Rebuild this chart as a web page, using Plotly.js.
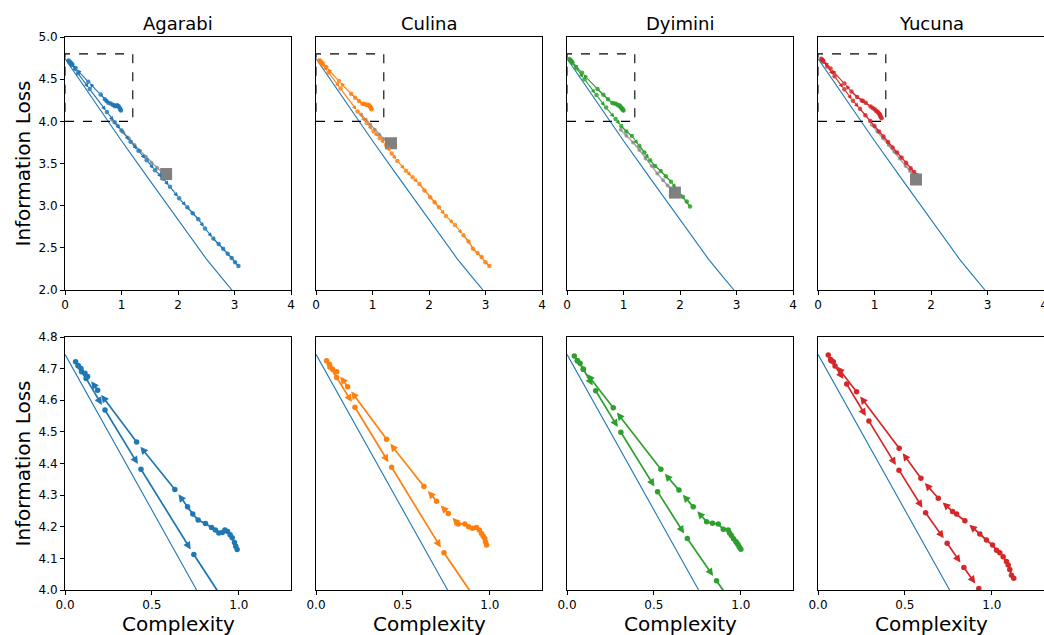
<!DOCTYPE html>
<html><head><meta charset="utf-8">
<script src="https://cdn.plot.ly/plotly-3.0.1.min.js"></script>
<style>html,body{margin:0;padding:0;background:#fff;overflow:hidden}</style>
</head><body><div id="chart" style="width:1044px;height:635px"></div>
<script>
const languages = ["Agarabi", "Culina", "Dyimini", "Yucuna"];
const colors = ["#1f77b4", "#ff7f0e", "#2ca02c", "#d62728"];

// theoretical bound curve (same in every panel)
const boundX = [0, 0.25, 0.5, 0.757, 1.0, 1.5, 2.0, 2.5, 2.75, 2.955];
const boundY = [4.745, 4.50, 4.255, 4.0, 3.77, 3.30, 2.835, 2.37, 2.165, 2.0];

// trajectories (upper branch from its end back to the start, then the lower branch)
const agarabiX = [0.99,0.982,0.975,0.962,0.95,0.935,0.92,0.905,0.885,0.865,0.843,0.808,0.766,0.735,0.705,0.632,0.412,0.188,0.13,0.115,0.092,0.077,0.061,
  0.075,0.095,0.121,0.23,0.437,0.741,0.88,1.0,1.16,1.30,1.446,1.593,1.74,1.858,2.02,2.165,2.26,2.36,2.478,2.625,2.72,2.80,2.88,2.95,3.01,3.07];
const agarabiY = [4.128,4.138,4.15,4.165,4.175,4.185,4.19,4.182,4.18,4.19,4.198,4.21,4.221,4.24,4.263,4.318,4.468,4.632,4.675,4.685,4.70,4.708,4.722,
  4.71,4.69,4.669,4.569,4.382,4.112,3.99,3.89,3.759,3.65,3.54,3.42,3.32,3.225,3.087,2.98,2.91,2.84,2.73,2.61,2.545,2.49,2.43,2.38,2.33,2.285];

const culinaX = [0.981,0.975,0.971,0.962,0.952,0.94,0.923,0.90,0.878,0.856,0.818,0.761,0.694,0.621,0.406,0.182,0.119,0.096,0.077,0.061,
  0.08,0.119,0.224,0.435,0.736,0.90,1.02,1.13,1.24,1.34,1.44,1.593,1.71,1.83,1.92,2.02,2.10,2.177,2.30,2.46,2.61,2.70,2.78,2.86,2.93,3.00,3.07];
const culinaY = [4.142,4.152,4.163,4.17,4.179,4.19,4.198,4.195,4.20,4.209,4.209,4.242,4.281,4.327,4.477,4.643,4.69,4.698,4.714,4.725,
  4.705,4.672,4.578,4.388,4.118,3.98,3.88,3.80,3.72,3.62,3.53,3.415,3.336,3.257,3.18,3.10,3.04,2.98,2.877,2.77,2.65,2.575,2.49,2.44,2.39,2.33,2.285];

const dyiminiX = [1.0,0.992,0.985,0.978,0.971,0.958,0.946,0.935,0.927,0.899,0.87,0.837,0.803,0.726,0.644,0.54,0.266,0.094,0.075,0.059,0.042,
  0.06,0.094,0.165,0.31,0.521,0.692,0.86,0.96,1.05,1.15,1.28,1.37,1.47,1.56,1.66,1.75,1.84,1.95,2.05,2.12,2.177];
const dyiminiY = [4.129,4.135,4.142,4.148,4.153,4.162,4.172,4.18,4.19,4.192,4.209,4.211,4.216,4.263,4.316,4.382,4.576,4.698,4.717,4.725,4.74,
  4.725,4.698,4.63,4.499,4.311,4.163,4.029,3.945,3.88,3.826,3.71,3.63,3.54,3.47,3.41,3.35,3.284,3.19,3.107,3.05,2.99];

const yucunaX = [1.126,1.113,1.103,1.094,1.084,1.065,1.046,1.027,1.004,0.969,0.931,0.845,0.797,0.774,0.692,0.592,0.467,0.222,0.088,0.073,0.059,
  0.075,0.098,0.165,0.293,0.466,0.619,0.743,0.839,0.925,1.00,1.08,1.16,1.24,1.32,1.40,1.48,1.56,1.64,1.70,1.747];
const yucunaY = [4.037,4.047,4.065,4.079,4.09,4.105,4.118,4.126,4.142,4.158,4.177,4.219,4.24,4.248,4.29,4.353,4.448,4.627,4.722,4.729,4.743,
  4.725,4.708,4.651,4.534,4.379,4.244,4.148,4.071,4.005,3.945,3.88,3.82,3.755,3.69,3.63,3.57,3.51,3.445,3.40,3.364];

// grey trajectories (top row only)
const greyAgarabiX = [0.83,0.93,1.03,1.13,1.23,1.33,1.43,1.53,1.63,1.72];
const greyAgarabiY = [4.02,3.95,3.87,3.80,3.72,3.65,3.58,3.51,3.45,3.40];
const greyCulinaX = [0.80,0.88,0.96,1.04,1.12,1.20,1.27];
const greyCulinaY = [4.08,4.02,3.96,3.90,3.84,3.79,3.76];
const greyDyiminiX = [0.95,1.05,1.17,1.28,1.39,1.50,1.60,1.70,1.78,1.85];
const greyDyiminiY = [3.90,3.83,3.75,3.66,3.56,3.47,3.38,3.30,3.24,3.19];
const greyYucunaX = [0.95,1.05,1.15,1.25,1.35,1.45,1.55,1.63,1.69];
const greyYucunaY = [3.96,3.88,3.80,3.72,3.64,3.56,3.47,3.41,3.36];

// actual-system markers (grey squares)
const systemX = [1.79, 1.327, 1.91, 1.735];
const systemY = [3.375, 3.74, 3.155, 3.31];

// zoom region shown in the bottom row
const boxX = [0, 1.2];
const boxY = [4.0, 4.8];

const topXRange = [0, 4], topYRange = [2, 5];
const botXRange = [0, 1.3], botYRange = [4.0, 4.8];

const pathX = [agarabiX, culinaX, dyiminiX, yucunaX];
const pathY = [agarabiY, culinaY, dyiminiY, yucunaY];
const greyX = [greyAgarabiX, greyCulinaX, greyDyiminiX, greyYucunaX];
const greyY = [greyAgarabiY, greyCulinaY, greyDyiminiY, greyYucunaY];

const W = 1044, H = 635, ML = 65, MR = 0, MT = 37, MB = 45;
const PW = W - ML - MR, PH = H - MT - MB;
const colPx = [[0,226],[251,477],[502,728],[753,979]];
const FONT = "DejaVu Sans, Liberation Sans, Arial, sans-serif";

const traces = [], annotations = [], shapes = [];
const layout = {
  width: W, height: H, margin: {l: ML, r: MR, t: MT, b: MB},
  paper_bgcolor: "#fff", plot_bgcolor: "#fff", showlegend: false,
  font: {family: FONT, size: 12, color: "#000"}
};

function axName(n, letter) { return n === 1 ? letter : letter + n; }

// draws arrows for long in-range segments; returns the line path with those segments removed
function arrowsAndLine(xs, ys, xr, yr, xrange, yrange, sx, sy, minLen, color, w, size, stand) {
  const inR = (x, y) => x >= xrange[0] && x <= xrange[1] && y >= yrange[0] && y <= yrange[1];
  const lx = [xs[0]], ly = [ys[0]];
  for (let k = 0; k < xs.length - 1; k++) {
    const dx = (xs[k+1] - xs[k]) * sx, dy = (ys[k+1] - ys[k]) * sy;
    const len = Math.sqrt(dx*dx + dy*dy);
    const arrow = len >= minLen && inR(xs[k], ys[k]) && inR(xs[k+1], ys[k+1]);
    if (arrow) {
      annotations.push({
        x: xs[k+1], y: ys[k+1], ax: xs[k], ay: ys[k],
        xref: xr, yref: yr, axref: xr, ayref: yr,
        text: "", showarrow: true, arrowhead: 2, arrowsize: size,
        arrowwidth: w, arrowcolor: color, standoff: stand, startstandoff: 0
      });
      lx.push(null, xs[k+1]); ly.push(null, ys[k+1]);
    } else {
      lx.push(xs[k+1]); ly.push(ys[k+1]);
    }
  }
  return [lx, ly];
}

for (let i = 0; i < 4; i++) {
  const c = colors[i];
  const d0 = colPx[i][0] / PW, d1 = Math.min(1, colPx[i][1] / PW);
  const tn = i + 1, bn = i + 5;
  const tx = axName(tn, "x"), ty = axName(tn, "y");
  const bx = axName(bn, "x"), by = axName(bn, "y");
  const topDom = [1 - 253 / PH, 1], botDom = [0, 1 - 300 / PH];
  const axBase = {showline: true, mirror: true, linecolor: "#000", linewidth: 1,
    showgrid: false, zeroline: false, ticks: "outside", ticklen: 4, tickwidth: 1,
    tickcolor: "#000", tickfont: {family: FONT, size: 12, color: "#000"},
    ticklabeloverflow: "allow"};

  layout["xaxis" + (tn === 1 ? "" : tn)] = Object.assign({}, axBase, {
    domain: [d0, d1], anchor: ty, range: topXRange, dtick: 1, tick0: 0});
  layout["yaxis" + (tn === 1 ? "" : tn)] = Object.assign({}, axBase, {
    domain: topDom, anchor: tx, range: topYRange, dtick: 0.5, tick0: 2, tickformat: ".1f",
    showticklabels: i === 0, ticks: i === 0 ? "outside" : ""});
  layout["xaxis" + bn] = Object.assign({}, axBase, {
    domain: [d0, d1], anchor: by, range: botXRange, dtick: 0.5, tick0: 0, tickformat: ".1f"});
  layout["yaxis" + bn] = Object.assign({}, axBase, {
    domain: botDom, anchor: bx, range: botYRange, dtick: 0.1, tick0: 4, tickformat: ".1f",
    showticklabels: i === 0, ticks: i === 0 ? "outside" : ""});

  // top row
  traces.push({x: boundX, y: boundY, xaxis: tx, yaxis: ty, mode: "lines",
    line: {color: "#1f77b4", width: 1.1}, hoverinfo: "skip"});
  traces.push({x: greyX[i], y: greyY[i], xaxis: tx, yaxis: ty, mode: "lines+markers",
    line: {color: "rgba(128,128,128,0.7)", width: 1.5},
    marker: {color: "rgba(128,128,128,0.7)", size: 4}, hoverinfo: "skip"});
  const topLine = arrowsAndLine(pathX[i], pathY[i], tx, ty, topXRange, topYRange, 56.5, 84.33, 9, c, 1.1, 0.8, 2);
  traces.push({x: topLine[0], y: topLine[1], xaxis: tx, yaxis: ty, mode: "lines",
    line: {color: c, width: 1.4}, hoverinfo: "skip"});
  traces.push({x: pathX[i], y: pathY[i], xaxis: tx, yaxis: ty, mode: "markers",
    marker: {color: c, size: 4.5, opacity: 0.85}, hoverinfo: "skip"});
  traces.push({x: [systemX[i]], y: [systemY[i]], xaxis: tx, yaxis: ty, mode: "markers",
    marker: {symbol: "square", color: "#808080", size: 12}, hoverinfo: "skip"});

  shapes.push({type: "rect", xref: tx, yref: ty, x0: boxX[0], x1: boxX[1], y0: boxY[0], y1: boxY[1],
    line: {color: "#000", width: 1.1, dash: "dash"}, fillcolor: "rgba(0,0,0,0)"});

  // bottom row
  traces.push({x: boundX, y: boundY, xaxis: bx, yaxis: by, mode: "lines",
    line: {color: "#1f77b4", width: 1.1}, hoverinfo: "skip"});
  const botLine = arrowsAndLine(pathX[i], pathY[i], bx, by, botXRange, botYRange, 174, 316.25, 14, c, 1.7, 0.9, 6);
  traces.push({x: botLine[0], y: botLine[1], xaxis: bx, yaxis: by, mode: "lines",
    line: {color: c, width: 1.8}, hoverinfo: "skip"});
  traces.push({x: pathX[i], y: pathY[i], xaxis: bx, yaxis: by, mode: "markers",
    marker: {color: c, size: 5.5}, hoverinfo: "skip"});

  // titles
  const cx = (d0 + colPx[i][1] / PW) / 2;
  annotations.push({xref: "paper", yref: "paper", x: cx, y: 1 + 13 / PH, xanchor: "center", yanchor: "middle",
    text: languages[i], showarrow: false, font: {family: FONT, size: 18, color: "#000"}});
  annotations.push({xref: "paper", yref: "paper", x: cx, y: -34 / PH, xanchor: "center", yanchor: "middle",
    text: "Complexity", showarrow: false, font: {family: FONT, size: 20, color: "#000"}});
}

annotations.push({xref: "paper", yref: "paper", x: -43 / PW, y: 1 - 126.5 / PH, xanchor: "center", yanchor: "middle",
  text: "Information Loss", textangle: -90, showarrow: false, font: {family: FONT, size: 20, color: "#000"}});
annotations.push({xref: "paper", yref: "paper", x: -43 / PW, y: 1 - 426.5 / PH, xanchor: "center", yanchor: "middle",
  text: "Information Loss", textangle: -90, showarrow: false, font: {family: FONT, size: 20, color: "#000"}});

layout.annotations = annotations;
layout.shapes = shapes;

Plotly.newPlot("chart", traces, layout, {displayModeBar: false, staticPlot: true});
</script>
</body></html>
